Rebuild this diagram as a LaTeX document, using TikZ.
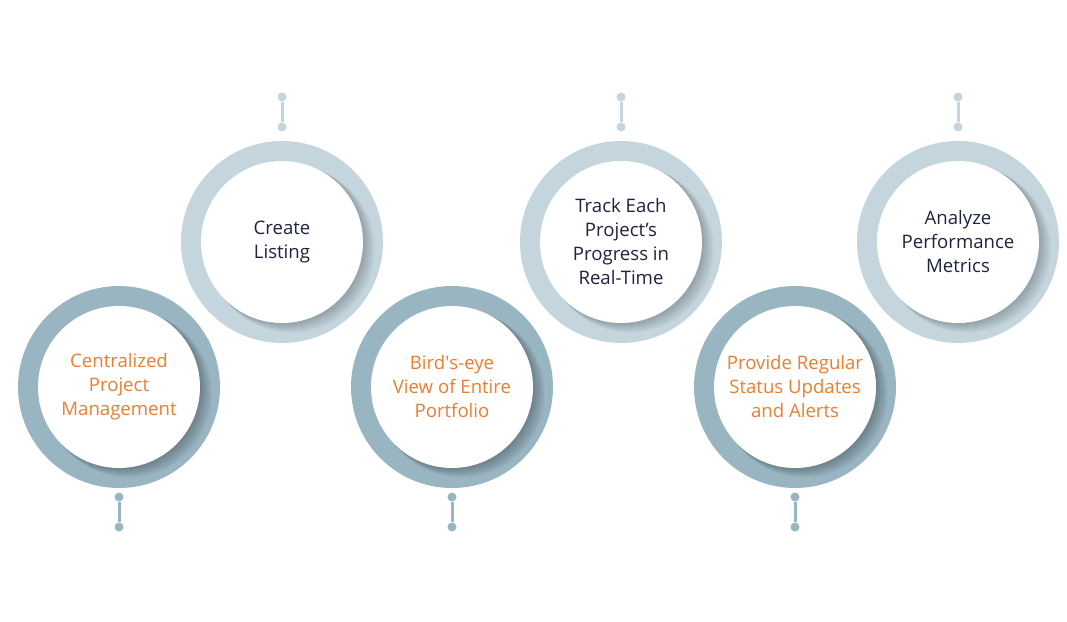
\documentclass[tikz,border=0pt]{standalone}
\usepackage{fontspec}
\setmainfont{Open Sans}
\usetikzlibrary{positioning, calc}
\definecolor{ringdark}{RGB}{154,181,194}
\definecolor{ringlight}{RGB}{196,213,222}
\definecolor{textorange}{RGB}{237,125,49}
\definecolor{textnavy}{RGB}{30,35,64}

\tikzset{
  ring/.style={circle, minimum size=202pt, inner sep=0pt},
  hole/.style={circle, fill=white, minimum size=162pt, inner sep=0pt, align=center,
    font=\fontsize{18.6}{24}\selectfont},
  pin/.style={circle, inner sep=0pt, minimum size=9pt},
}

\begin{document}
\begin{tikzpicture}[x=1pt, y=-1pt]
\useasboundingbox (0,0) rectangle (1067,621);

% Lower row
\foreach \i/\x/\txt in {1/119/{Centralized\\Project\\Management},
                        3/452/{Bird{\XeTeXglyph\XeTeXcharglyph"0027}s-eye\\View of Entire\\Portfolio},
                        5/795/{Provide Regular\\Status Updates\\and Alerts}} {
    \node[ring, fill=ringdark] (ring\i) at (\x,387) {};
    \begin{scope}
        \clip (ring\i.center) circle (101);
        \foreach \k in {1,...,12} {
            \fill[black, opacity=0.024] ($(ring\i.center)+(\k*0.8,\k*0.6)$) circle ({81+\k*0.2});
        }
    \end{scope}
    \node[hole, text=textorange] (hole\i) at (ring\i.center) {\txt};
    \node[pin, fill=ringdark] (pintop\i) at (\x,497) {};
    \node[pin, fill=ringdark] (pinend\i) at (\x,527) {};
    \draw[ringdark, line width=3pt] (pintop\i) -- (pinend\i);
}

% Upper row
\foreach \i/\x/\txt in {2/282/{Create\\Listing},
                        4/621/{Track Each\\Project's\\Progress in\\Real-Time},
                        6/958/{Analyze\\Performance\\Metrics}} {
    \node[ring, fill=ringlight] (ring\i) at (\x,242) {};
    \begin{scope}
        \clip (ring\i.center) circle (101);
        \foreach \k in {1,...,12} {
            \fill[black, opacity=0.02] ($(ring\i.center)+(\k*0.8,\k*0.6)$) circle ({81+\k*0.2});
        }
    \end{scope}
    \node[hole, text=textnavy] (hole\i) at (ring\i.center) {\txt};
    \node[pin, fill=ringlight] (pintop\i) at (\x,97) {};
    \node[pin, fill=ringlight] (pinend\i) at (\x,127) {};
    \draw[ringlight, line width=3pt] (pintop\i) -- (pinend\i);
}
\end{tikzpicture}
\end{document}
